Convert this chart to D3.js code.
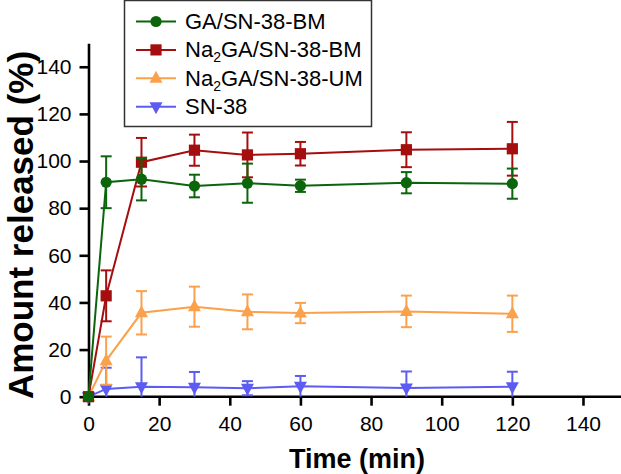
<!DOCTYPE html>
<html>
<head>
<meta charset="utf-8">
<script src="https://cdn.jsdelivr.net/npm/d3@7"></script>
<style>
  html, body { margin: 0; padding: 0; background: #fff; }
  svg { display: block; }
  text { font-family: Arial, "Liberation Sans", Helvetica, sans-serif; }
</style>
</head>
<body>
<svg id="chart" width="621" height="474"></svg>
<script>
// ---- data ----
const times = [0, 5, 15, 30, 45, 60, 90, 120];
const gaBM      = [0, 91.0, 92.3, 89.4, 90.6, 89.5, 90.8, 90.4];
const gaBMErr   = [0, 11.0, 9.0, 4.8, 8.3, 2.6, 4.5, 6.4];
const naBM      = [0, 42.8, 99.5, 104.6, 102.6, 103.1, 104.8, 105.2];
const naBMErr   = [0, 10.8, 10.3, 6.6, 9.5, 5.0, 7.4, 11.4];
const naUM      = [0, 15.3, 35.6, 38.2, 36.0, 35.5, 36.2, 35.2];
const naUMErr   = [0, 10.2, 9.2, 8.5, 7.4, 4.3, 6.7, 7.7];
const sn38      = [0, 3.3, 4.2, 4.0, 3.6, 4.4, 3.7, 4.2];
const sn38Err   = [0, 9.0, 12.5, 6.5, 3.0, 4.4, 7.0, 6.4];
const xTicks = [0, 20, 40, 60, 80, 100, 120, 140];
const yTicks = [0, 20, 40, 60, 80, 100, 120, 140];
const seriesNames = ["GA/SN-38-BM", "Na2GA/SN-38-BM", "Na2GA/SN-38-UM", "SN-38"];
const xTitle = "Time (min)";
const yTitle = "Amount released (%)";

const series = [
  { name: seriesNames[0], vals: gaBM, err: gaBMErr, color: "#0b650b", sym: "circle" },
  { name: seriesNames[1], vals: naBM, err: naBMErr, color: "#a50e0e", sym: "square" },
  { name: seriesNames[2], vals: naUM, err: naUMErr, color: "#fba04b", sym: "up" },
  { name: seriesNames[3], vals: sn38, err: sn38Err, color: "#5c5cf2", sym: "down" }
];

const svg = d3.select("#chart");
const x = d3.scaleLinear().domain([0, 150]).range([88.5, 618.3]);
const y = d3.scaleLinear().domain([0, 150]).range([396.7, 43.2]);

function drawMarker(g, sym, cx, cy, color) {
  if (sym === "circle") {
    g.append("circle").attr("cx", cx).attr("cy", cy).attr("r", 5.6).attr("fill", color);
  } else if (sym === "square") {
    g.append("rect").attr("x", cx - 5.6).attr("y", cy - 5.6).attr("width", 11.2).attr("height", 11.2).attr("fill", color);
  } else if (sym === "up") {
    g.append("path").attr("d", `M${cx},${cy - 7.5}L${cx + 6.5},${cy + 4.5}L${cx - 6.5},${cy + 4.5}Z`).attr("fill", color);
  } else {
    g.append("path").attr("d", `M${cx},${cy + 7.5}L${cx + 6.5},${cy - 4.5}L${cx - 6.5},${cy - 4.5}Z`).attr("fill", color);
  }
}

// ---- axes ----
const yAxis = d3.axisLeft(y).tickValues(yTicks).tickSize(9).tickSizeOuter(0).tickPadding(8);
const gy = svg.append("g").attr("transform", `translate(${x(0)},0)`).call(yAxis);
gy.select(".domain").attr("stroke", "#000").attr("stroke-width", 2.6);
gy.selectAll(".tick line").attr("stroke", "#000").attr("stroke-width", 2.6);
gy.selectAll(".tick text").attr("font-size", 21).attr("fill", "#000");

const xAxis = d3.axisBottom(x).tickValues(xTicks).tickSize(9).tickSizeOuter(0).tickPadding(10);
const gx = svg.append("g").attr("transform", `translate(0,${y(0)})`).call(xAxis);
gx.select(".domain").attr("d", `M${x(0) - 3},0H621`).attr("stroke", "#000").attr("stroke-width", 2.6);
gx.selectAll(".tick line").attr("stroke", "#000").attr("stroke-width", 2.6);
gx.selectAll(".tick text").attr("font-size", 21).attr("fill", "#000");

svg.append("text").attr("x", 357).attr("y", 468).attr("text-anchor", "middle")
  .attr("font-size", 27).attr("font-weight", "bold").text(xTitle);
svg.append("text").attr("transform", "translate(32.5,225) rotate(-90)").attr("text-anchor", "middle")
  .attr("font-size", 35).attr("font-weight", "bold").text(yTitle);

// ---- series ----
const order = [3, 2, 1, 0];
order.forEach(i => {
  const s = series[i];
  const g = svg.append("g");
  const line = d3.line().x((d, k) => x(times[k])).y(d => y(d));
  g.append("path").datum(s.vals).attr("d", line).attr("fill", "none")
    .attr("stroke", s.color).attr("stroke-width", 2);
  s.vals.forEach((v, k) => {
    const e = s.err[k];
    if (e > 0) {
      const cx = x(times[k]);
      const hi = v + e, lo = Math.max(0, v - e);
      g.append("line").attr("x1", cx).attr("x2", cx).attr("y1", y(hi)).attr("y2", y(lo))
        .attr("stroke", s.color).attr("stroke-width", 2);
      g.append("line").attr("x1", cx - 5.5).attr("x2", cx + 5.5).attr("y1", y(hi)).attr("y2", y(hi))
        .attr("stroke", s.color).attr("stroke-width", 2);
      if (v - e > 0) {
        g.append("line").attr("x1", cx - 5.5).attr("x2", cx + 5.5).attr("y1", y(v - e)).attr("y2", y(v - e))
          .attr("stroke", s.color).attr("stroke-width", 2);
      }
    }
    drawMarker(g, s.sym, x(times[k]), y(v), s.color);
  });
});

// ---- legend ----
const lg = svg.append("g");
lg.append("rect").attr("x", 124.5).attr("y", 0.5).attr("width", 247).attr("height", 126)
  .attr("fill", "#fff").attr("stroke", "#333").attr("stroke-width", 1.5);
series.forEach((s, i) => {
  const cy = 21.5 + i * 28.4;
  lg.append("line").attr("x1", 136).attr("x2", 176).attr("y1", cy).attr("y2", cy)
    .attr("stroke", s.color).attr("stroke-width", 2);
  drawMarker(lg, s.sym, 156, cy, s.color);
  const t = lg.append("text").attr("x", 185).attr("y", cy + 7.5).attr("font-size", 22).attr("fill", "#000");
  if (s.name.startsWith("Na2")) {
    t.append("tspan").text("Na");
    t.append("tspan").attr("font-size", 14).attr("dy", 5).text("2");
    t.append("tspan").attr("dy", -5).text(s.name.slice(3));
  } else {
    t.text(s.name);
  }
});
</script>
</body>
</html>
